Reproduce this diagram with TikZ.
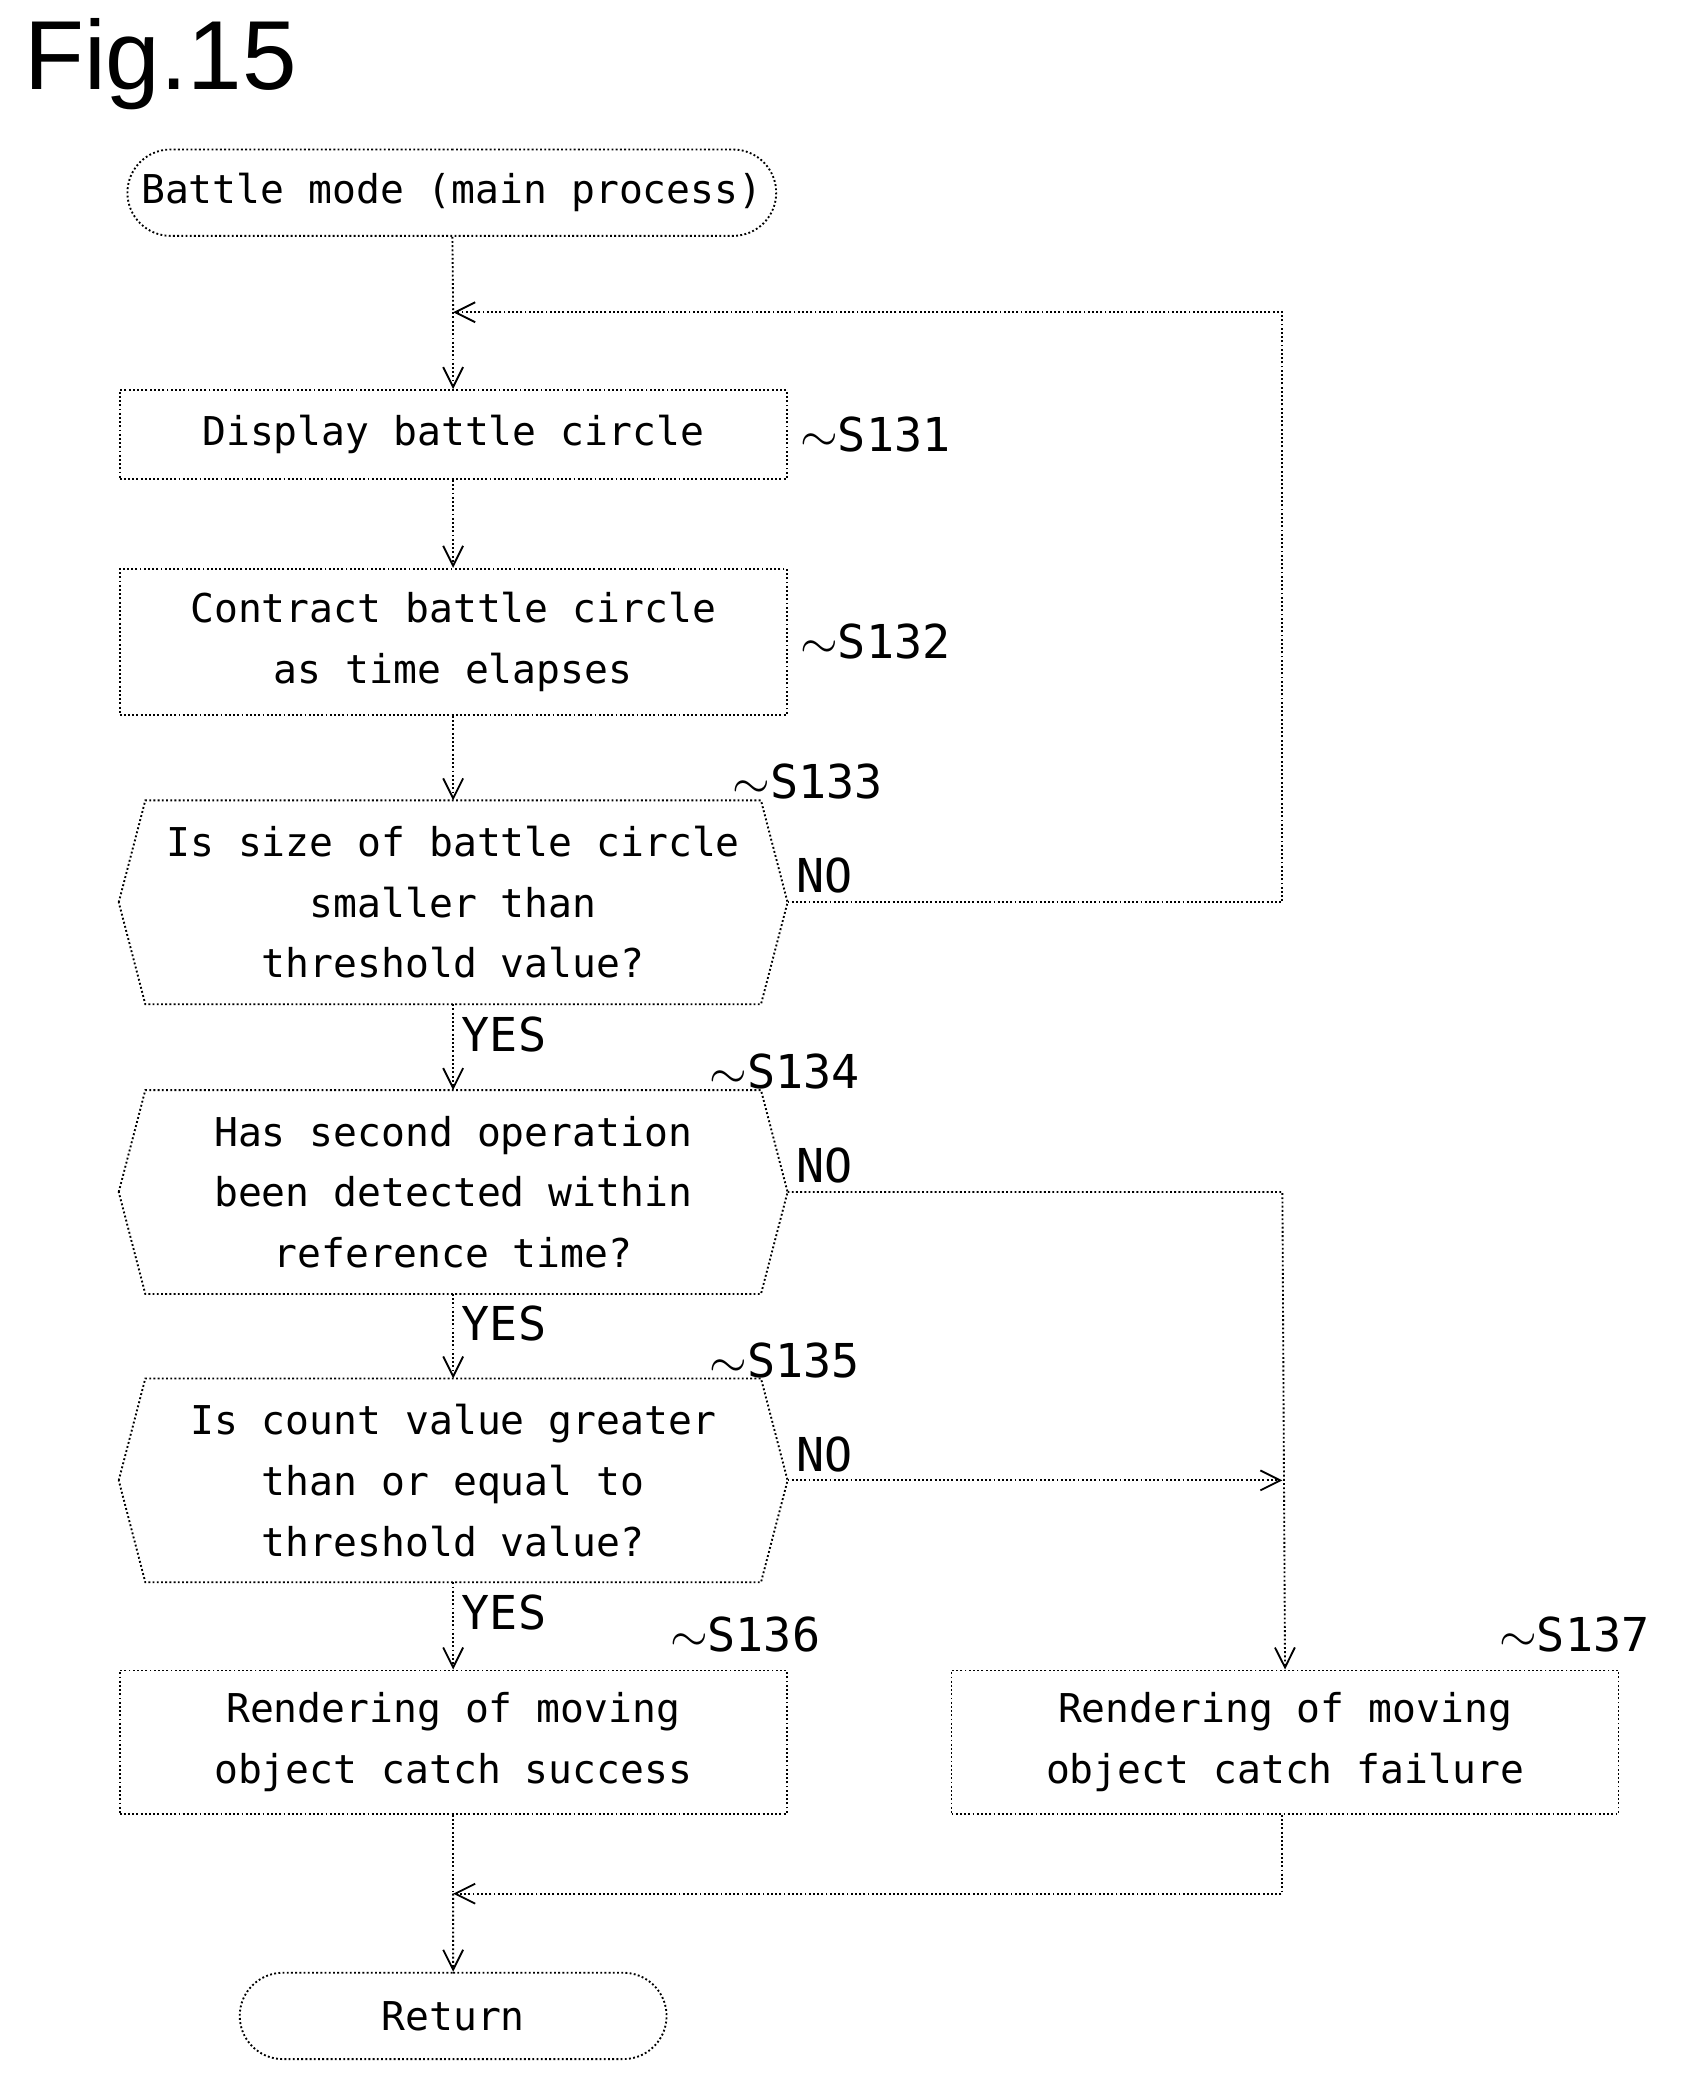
\documentclass[tikz,border=0pt]{standalone}
\usepackage{fontspec}
\setmainfont{DejaVu Sans Mono}
\setsansfont{Liberation Sans}
\usetikzlibrary{shapes.misc,arrows.meta}

\tikzset{
    box/.style={draw,thick,densely dotted,minimum width=10.04cm,align=center,font=\fontsize{17}{26}\selectfont},
    hexa/.style={box,draw=none,minimum height=3.04cm},
    term/.style={box,rounded rectangle,minimum height=1.3cm},
    line/.style={thick,densely dotted},
    arr/.style={line,-{Straight Barb[length=3mm,width=3mm]}},
    lbl/.style={font=\fontsize{20}{24}\selectfont},
}

\begin{document}
\begin{tikzpicture}[x=0.02cm,y=-0.02cm]
    \useasboundingbox (0,0) rectangle (1280,1575);
    \node[anchor=north west,font=\sffamily\fontsize{42}{46}\selectfont] (fig) at (12,8) {Fig.15};

    \node[term,minimum width=10cm] (start) at (340,145) {Battle mode (main process)};
    \node[box,minimum height=1.34cm] (s131) at (341,327) {Display battle circle};
    \node[box,minimum height=2.2cm] (s132) at (341,483) {Contract battle circle\\as time elapses};
    \node[hexa] (s133) at (341,679) {Is size of battle circle\\smaller than\\threshold value?};
    \node[hexa] (s134) at (341,897) {Has second operation\\been detected within\\reference time?};
    \node[hexa] (s135) at (341,1114) {Is count value greater\\than or equal to\\threshold value?};
    \node[box,minimum height=2.16cm] (s136) at (341,1311) {Rendering of moving\\object catch success};
    \node[box,minimum height=2.16cm] (s137) at (967,1311) {Rendering of moving\\object catch failure};
    \node[term,minimum width=6.66cm] (ret) at (341,1517) {Return};

    % hexagon outlines
    \foreach \h in {s133,s134,s135}
        \draw[line] (\h.west) -- ([xshift=0.4cm]\h.north west) -- ([xshift=-0.4cm]\h.north east)
            -- (\h.east) -- ([xshift=-0.4cm]\h.south east) -- ([xshift=0.4cm]\h.south west) -- cycle;

    \coordinate (loop) at (341,235);
    \coordinate (loopR) at (965,235);
    \coordinate (fail) at (965,1114);
    \coordinate (merge) at (341,1425);

    % main flow
    \draw[line] (start) -- (loop);
    \draw[arr] (loop) -- (s131);
    \draw[arr] (s131) -- (s132);
    \draw[arr] (s132) -- (s133);
    \draw[arr] (s133) -- node[lbl,right,pos=0.35]{YES} (s134);
    \draw[arr] (s134) -- node[lbl,right,pos=0.35]{YES} (s135);
    \draw[arr] (s135) -- node[lbl,right,pos=0.35]{YES} (s136);
    \draw[line] (s136) -- (merge);
    \draw[arr] (merge) -- (ret);

    % NO branches
    \draw[arr] (s133.east) -- node[lbl,above right,pos=0]{NO} (s133.east -| loopR) -- (loopR) -- (loop);
    \draw[arr] (s134.east) -- node[lbl,above right,pos=0]{NO} (s134.east -| fail) -- (s137.north);
    \draw[arr] (s135.east) -- node[lbl,above right,pos=0]{NO} (fail);
    \draw[arr] (s137.south -| fail) -- (fail |- merge) -- (merge);

    % step labels
    \node[lbl,anchor=west] (l131) at (596,327) {$\sim$S131};
    \node[lbl,anchor=west] (l132) at (596,483) {$\sim$S132};
    \node[lbl,anchor=west] (l133) at (545,588) {$\sim$S133};
    \node[lbl,anchor=west] (l134) at (528,806) {$\sim$S134};
    \node[lbl,anchor=west] (l135) at (528,1024) {$\sim$S135};
    \node[lbl,anchor=west] (l136) at (498,1230) {$\sim$S136};
    \node[lbl,anchor=west] (l137) at (1122,1230) {$\sim$S137};
\end{tikzpicture}
\end{document}
